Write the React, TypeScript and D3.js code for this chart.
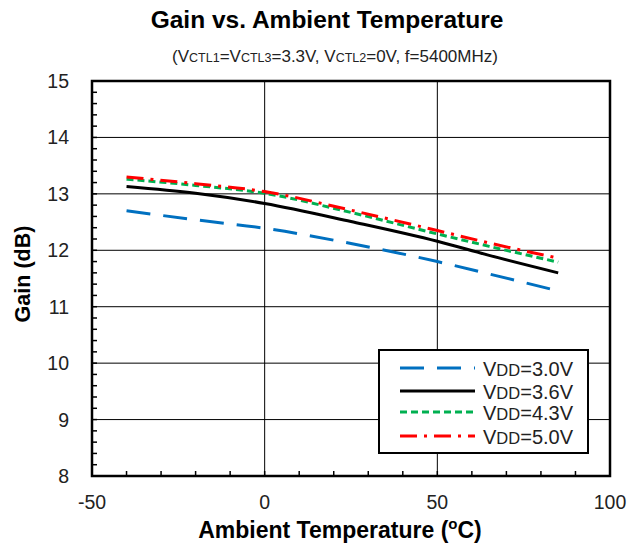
import React from "react";
import * as d3 from "d3";

const temps = [-40, -20, 0, 25, 50, 65, 85];
const vdd30 = [12.70, 12.54, 12.39, 12.12, 11.80, 11.58, 11.28];
const vdd36 = [13.13, 13.01, 12.83, 12.51, 12.16, 11.91, 11.60];
const vdd43 = [13.26, 13.15, 13.01, 12.67, 12.29, 12.07, 11.79];
const vdd50 = [13.30, 13.18, 13.04, 12.71, 12.35, 12.13, 11.86];
const seriesNames = ["3.0V", "3.6V", "4.3V", "5.0V"];
const xTicks = [-50, 0, 50, 100];
const yTicks = [8, 9, 10, 11, 12, 13, 14, 15];

const W = 627, H = 546;
const L = 92, R = 610, T = 81, B = 476;
const FONT = "'Liberation Sans', Arial, sans-serif";

export default function App() {
  const x = d3.scaleLinear().domain([-50, 100]).range([L, R]);
  const y = d3.scaleLinear().domain([8, 15]).range([B, T]);
  const line = d3.line<[number, number]>().x(d => x(d[0])).y(d => y(d[1])).curve(d3.curveMonotoneX);
  const styles = [
    { color: "#0070C0", dash: "24,13", width: 3 },
    { color: "#000000", dash: "", width: 3 },
    { color: "#00B050", dash: "7,4", width: 3 },
    { color: "#FF0000", dash: "17,7,3,7", width: 3 },
  ];
  const data = [vdd30, vdd36, vdd43, vdd50];
  const xMinor = d3.range(-40, 100, 10);
  const yMinor = d3.range(8.2, 15, 0.2);
  const legendRows = [368, 391, 412, 436];
  return (
    <svg width={W} height={H} style={{ position: "absolute", left: 0, top: 0, background: "#fff" }} fontFamily={FONT}>
      <rect x={0} y={0} width={W} height={H} fill="#fff" />
      <text x={327} y={28} textAnchor="middle" fontSize={24.5} fontWeight="bold">Gain vs. Ambient Temperature</text>
      <text x={335} y={62} textAnchor="middle" fontSize={17} fill="#222">
        (V<tspan fontSize={12.5}>CTL1</tspan>=V<tspan fontSize={12.5}>CTL3</tspan>=3.3V, V<tspan fontSize={12.5}>CTL2</tspan>=0V, f=5400MHz)
      </text>
      {/* grid */}
      {yTicks.slice(1, -1).map(t => (
        <line key={"gy" + t} x1={L} x2={R} y1={y(t)} y2={y(t)} stroke="#000" strokeWidth={1} />
      ))}
      {xTicks.slice(1, -1).map(t => (
        <line key={"gx" + t} x1={x(t)} x2={x(t)} y1={T} y2={B} stroke="#000" strokeWidth={1} />
      ))}
      {/* minor ticks */}
      {xMinor.map(t => (
        <line key={"mx" + t} x1={x(t)} x2={x(t)} y1={B} y2={B - 5} stroke="#000" strokeWidth={1.5} />
      ))}
      {yMinor.map(t => (
        <line key={"my" + t.toFixed(1)} x1={L} x2={L + 5} y1={y(t)} y2={y(t)} stroke="#000" strokeWidth={1.5} />
      ))}
      {/* series */}
      {data.map((vals, i) => (
        <path key={"s" + i} d={line(temps.map((t, j) => [t, vals[j]] as [number, number])) || ""}
          fill="none" stroke={styles[i].color} strokeWidth={styles[i].width} strokeDasharray={styles[i].dash} />
      ))}
      <rect x={L} y={T} width={R - L} height={B - T} fill="none" stroke="#000" strokeWidth={2.5} />
      {/* tick labels */}
      {yTicks.map(t => (
        <text key={"yl" + t} x={69} y={y(t) + 7} textAnchor="end" fontSize={19.5} fill="#222">{t}</text>
      ))}
      {xTicks.map(t => (
        <text key={"xl" + t} x={x(t)} y={509} textAnchor="middle" fontSize={19.5} fill="#222">{t}</text>
      ))}
      <text transform={`translate(30,274) rotate(-90)`} textAnchor="middle" fontSize={21.5} fontWeight="bold">Gain (dB)</text>
      <text x={340} y={538} textAnchor="middle" fontSize={23} fontWeight="bold">
        Ambient Temperature (<tspan fontSize={15} dy={-9}>o</tspan><tspan dy={9}>C)</tspan>
      </text>
      {/* legend */}
      <rect x={379} y={350} width={209} height={103} fill="#fff" stroke="#000" strokeWidth={2} />
      {seriesNames.map((n, i) => (
        <g key={"lg" + i}>
          <line x1={400} x2={475} y1={legendRows[i]} y2={legendRows[i]} stroke={styles[i].color}
            strokeWidth={styles[i].width} strokeDasharray={styles[i].dash} />
          <text x={483} y={legendRows[i] + 7.5} fontSize={20} fill="#222">
            V<tspan fontSize={16.5}>DD</tspan>={n}
          </text>
        </g>
      ))}
    </svg>
  );
}
